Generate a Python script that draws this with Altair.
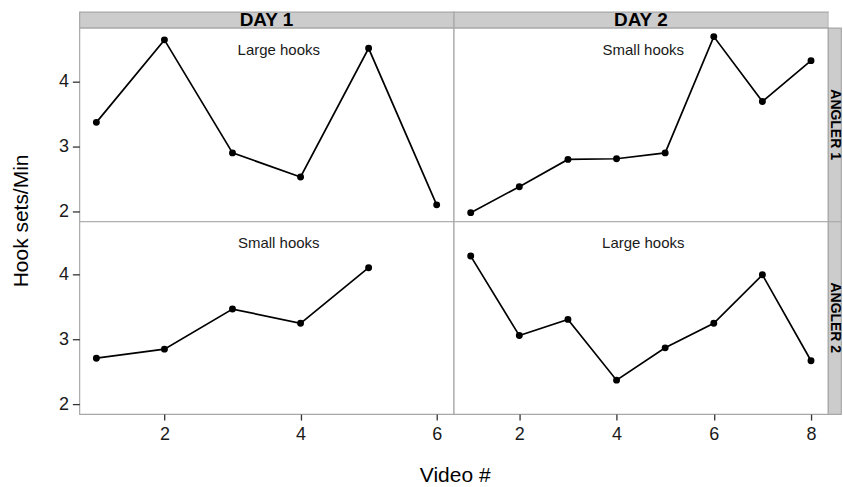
import altair as alt
import pandas as pd

# Hook-set rate per video, by angler (rows) and day (columns)
videos_day1 = [1, 2, 3, 4, 5, 6]
videos_day1_angler2 = [1, 2, 3, 4, 5]
videos_day2 = [1, 2, 3, 4, 5, 6, 7, 8]

angler1_day1 = [3.37, 4.64, 2.90, 2.53, 4.51, 2.10]
angler2_day1 = [2.71, 2.85, 3.47, 3.25, 4.11]
angler1_day2 = [1.98, 2.38, 2.80, 2.81, 2.90, 4.69, 3.69, 4.32]
angler2_day2 = [4.29, 3.06, 3.31, 2.37, 2.87, 3.25, 4.00, 2.67]

days = ["DAY 1", "DAY 2"]
anglers = ["ANGLER 1", "ANGLER 2"]
hook_labels = {
    ("ANGLER 1", "DAY 1"): "Large hooks",
    ("ANGLER 1", "DAY 2"): "Small hooks",
    ("ANGLER 2", "DAY 1"): "Small hooks",
    ("ANGLER 2", "DAY 2"): "Large hooks",
}
label_x = {"DAY 1": 3.68, "DAY 2": 4.55}
label_y = 4.49

x_ticks = {"DAY 1": [2, 4, 6], "DAY 2": [2, 4, 6, 8]}
y_ticks = [2, 3, 4]

# ggplot-style 5% expansion around the data
Y_DOMAIN = [1.845, 4.826]
X_DOMAIN = {"DAY 1": [0.75, 6.25], "DAY 2": [0.65, 8.35]}

FONT = "Liberation Sans"
BORDER = "#a8a8a8"
STRIP_FILL = "#cccccc"
COL_W = 375
ROW_H = {"ANGLER 1": 194, "ANGLER 2": 193}
STRIP = 16
SIDE_W = 13

series = {
    ("ANGLER 1", "DAY 1"): (videos_day1, angler1_day1),
    ("ANGLER 2", "DAY 1"): (videos_day1_angler2, angler2_day1),
    ("ANGLER 1", "DAY 2"): (videos_day2, angler1_day2),
    ("ANGLER 2", "DAY 2"): (videos_day2, angler2_day2),
}


def panel(angler, day):
    videos, rates = series[(angler, day)]
    df = pd.DataFrame({"video": videos, "rate": rates})
    lab = pd.DataFrame({"video": [label_x[day]], "rate": [label_y],
                        "text": [hook_labels[(angler, day)]]})

    left_col = day == "DAY 1"
    bottom_row = angler == "ANGLER 2"

    if bottom_row:
        xa = dict(values=x_ticks[day], format="d", tickSize=6, labelPadding=5,
                  domain=False, grid=False)
        if left_col:
            xa.update(title="Video #", titleX=376, titleY=68,
                      titleBaseline="alphabetic", titleAlign="center")
        else:
            xa.update(title="")
        x_axis = alt.Axis(**xa)
    else:
        x_axis = None

    if left_col:
        ya = dict(values=y_ticks, format="d", tickSize=7, labelPadding=4,
                  domain=False, grid=False)
        if not bottom_row:
            ya.update(title="Hook sets/Min", titleX=-52, titleY=193,
                      titleBaseline="alphabetic", titleAlign="center",
                      titleAngle=270)
        else:
            ya.update(title="")
        y_axis = alt.Axis(**ya)
    else:
        y_axis = None

    x_enc = alt.X("video:Q", scale=alt.Scale(domain=X_DOMAIN[day], nice=False, zero=False),
                  axis=x_axis)
    y_enc = alt.Y("rate:Q", scale=alt.Scale(domain=Y_DOMAIN, nice=False, zero=False),
                  axis=y_axis)

    base = alt.Chart(df).encode(x=x_enc, y=y_enc)
    line = base.mark_line(color="black", strokeWidth=1.7)
    pts = base.mark_circle(color="black", size=48, opacity=1)
    txt = alt.Chart(lab).mark_text(font=FONT, fontSize=15, color="#1a1a1a",
                                   baseline="middle", align="center").encode(
        x="video:Q", y="rate:Q", text="text:N")
    return alt.layer(line, pts, txt).properties(
        width=COL_W, height=ROW_H[angler],
        view=alt.ViewBackground(fill="white", stroke=BORDER, strokeWidth=1.2),
    )


def top_strip(day):
    d = pd.DataFrame({"label": [day]})
    return alt.Chart(d).mark_text(font=FONT, fontSize=19, fontWeight="bold",
                                  color="black", baseline="middle", align="center",
                                  clip=True).encode(
        text="label:N", x=alt.value(COL_W / 2), y=alt.value(STRIP / 2 + 0.5)
    ).properties(width=COL_W, height=STRIP,
                 view=alt.ViewBackground(fill=STRIP_FILL, stroke=BORDER, strokeWidth=1.2))


def side_strip(angler):
    d = pd.DataFrame({"label": [angler]})
    return alt.Chart(d).mark_text(font=FONT, fontSize=14, fontWeight="bold",
                                  color="black", baseline="middle", align="center",
                                  angle=90).encode(
        text="label:N", x=alt.value(SIDE_W / 2), y=alt.value(ROW_H[angler] / 2)
    ).properties(width=SIDE_W, height=ROW_H[angler],
                 view=alt.ViewBackground(fill=STRIP_FILL, stroke=BORDER, strokeWidth=1.2))


corner = alt.Chart(pd.DataFrame({"label": [""]})).mark_text().encode(
    text="label:N"
).properties(width=SIDE_W, height=STRIP,
             view=alt.ViewBackground(fill="white", stroke="transparent"))

cells = [
    top_strip("DAY 1"), top_strip("DAY 2"), corner,
    panel("ANGLER 1", "DAY 1"), panel("ANGLER 1", "DAY 2"), side_strip("ANGLER 1"),
    panel("ANGLER 2", "DAY 1"), panel("ANGLER 2", "DAY 2"), side_strip("ANGLER 2"),
]

chart = alt.concat(*cells, columns=3, spacing=0, bounds="flush", align="each").properties(
    padding={"left": 9.5, "top": 10.4, "right": 0, "bottom": 0},
    background="white",
).configure_axis(
    labelFont=FONT, labelFontSize=18, labelColor="#1a1a1a",
    tickColor="#333333", tickWidth=1.3,
    titleFont=FONT, titleFontSize=21, titleFontWeight="normal", titleColor="black",
).configure_view(stroke=BORDER)

chart.save("out.html", embed_options={"renderer": "svg", "actions": False})
